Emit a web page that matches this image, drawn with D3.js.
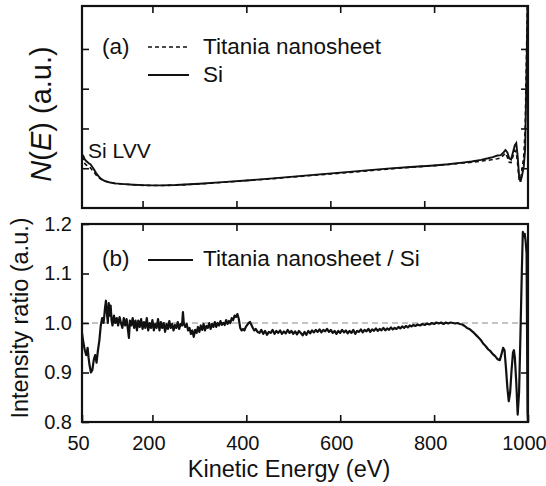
<!DOCTYPE html>
<html>
<head>
<meta charset="utf-8">
<script src="https://cdn.jsdelivr.net/npm/d3@7"></script>
<style>
  body { margin: 0; background: #fff; }
  svg text { font-family: "Liberation Sans", Arial, sans-serif; fill: #111; }
</style>
</head>
<body>
<svg id="graph"></svg>
<script>
// Panel (a): N(E) spectra, [energy eV, arbitrary units]
const siSpectrum = [
  [50,1.35],[53,1.30],[56,1.22],[59,1.18],[62,1.15],[65,1.12],[68,1.10],[71,1.05],[75,0.98],[80,0.88],
  [85,0.80],[90,0.74],[95,0.70],[100,0.67],[110,0.64],[120,0.62],[140,0.60],[160,0.585],[180,0.575],
  [200,0.57],[220,0.57],[250,0.58],[300,0.61],[350,0.65],[400,0.69],[450,0.74],[500,0.79],[550,0.84],
  [600,0.89],[650,0.94],[700,0.99],[750,1.03],[800,1.07],[830,1.10],[860,1.14],[880,1.17],[900,1.21],
  [915,1.25],[925,1.28],[935,1.32],[942,1.33],[948,1.40],[952,1.46],[956,1.40],[960,1.25],[964,1.22],
  [968,1.40],[972,1.58],[975,1.63],[978,1.30],[981,0.80],[984,0.66],[987,0.80],[991,1.04],[994,1.5],
  [997,3.5],[1000,6.0]
];
const titaniaSpectrum = [
  [50,1.30],[53,1.22],[56,1.12],[59,1.08],[62,1.06],[65,1.04],[68,1.01],[71,0.96],[75,0.91],[80,0.83],
  [85,0.77],[90,0.73],[95,0.70],[100,0.68],[110,0.645],[120,0.62],[140,0.60],[160,0.585],[180,0.57],
  [200,0.565],[220,0.565],[250,0.575],[300,0.605],[350,0.645],[400,0.69],[450,0.73],[500,0.78],
  [550,0.83],[600,0.875],[650,0.925],[700,0.975],[750,1.025],[800,1.065],[830,1.095],[860,1.13],
  [880,1.15],[900,1.18],[915,1.20],[925,1.22],[935,1.24],[942,1.26],[948,1.33],[952,1.38],[956,1.28],
  [960,1.15],[964,1.14],[968,1.30],[972,1.45],[975,1.40],[978,1.10],[981,0.72],[984,0.70],[987,0.95],
  [991,1.3],[994,2.0],[997,4.0],[1000,6.0]
];

// Panel (b): intensity ratio Titania nanosheet / Si
const ratio = [
  [50,0.980],[53,0.960],[56,0.945],[59,0.935],[62,0.950],[64,0.930],[66,0.915],[69,0.900],[72,0.905],
  [75,0.925],[78,0.935],[81,0.920],[84,0.945],[87,0.965],[90,0.995],[93,1.010],[96,1.000],[99,1.030],
  [101,1.045],[103,1.020],[105,1.000],[107,1.040],[109,1.015],[111,1.035],[113,1.005],[115,0.995],
  [118,1.015],[121,1.000],[124,1.010],[127,0.995],[130,1.012],[133,1.000],[136,0.990],[139,1.010],
  [142,0.995],[145,1.008],[148,0.985],[150,0.970],[152,1.005],[155,0.995],[158,1.010],[161,0.990],
  [164,1.005],[167,0.985],[170,1.005],[173,0.992],[176,1.008],[179,0.988],[182,1.002],[185,0.990],
  [188,1.010],[191,0.985],[194,1.000],[197,0.990],[200,1.006],[203,0.985],[206,0.998],[209,0.990],
  [212,1.008],[215,0.985],[218,1.002],[221,0.990],[224,1.000],[227,0.982],[230,0.998],[233,0.988],
  [236,1.004],[239,0.990],[242,0.998],[245,0.985],[248,0.996],[251,0.990],[254,1.002],[257,0.988],
  [260,0.998],[263,0.995],[265,1.022],[267,0.998],[270,0.992],[273,0.998],[276,0.985],[279,0.990],
  [282,0.978],[285,0.985],[288,0.972],[291,0.986],[294,0.980],[297,0.992],[300,0.982],[303,0.995],
  [306,0.986],[309,0.998],[312,0.985],[315,0.994],[318,0.990],[321,1.000],[324,0.988],[327,0.998],
  [330,0.992],[333,1.002],[336,0.992],[339,1.000],[342,0.995],[345,1.004],[348,0.996],[351,1.000],
  [354,0.996],[357,1.006],[360,0.998],[363,1.004],[366,1.000],[369,1.010],[372,1.006],[375,1.015],
  [378,1.012],[381,1.018],[384,1.008],[387,0.990],[390,0.985],[393,0.988],[396,0.985],[399,0.992],
  [402,0.996],[405,1.000],[408,1.002],[411,0.996],[414,0.990],[417,0.985],[420,0.988],[424,0.982],
  [428,0.980],[432,0.986],[436,0.978],[440,0.984],[444,0.976],[448,0.982],[452,0.980],[456,0.986],
  [460,0.978],[464,0.984],[468,0.980],[472,0.985],[476,0.978],[480,0.983],[484,0.979],[488,0.986],
  [492,0.980],[496,0.984],[500,0.978],[504,0.983],[508,0.977],[512,0.984],[516,0.980],[520,0.975],
  [524,0.982],[528,0.976],[532,0.984],[536,0.979],[540,0.985],[544,0.981],[548,0.986],[552,0.982],
  [556,0.987],[560,0.981],[564,0.986],[568,0.983],[572,0.988],[576,0.982],[580,0.986],[584,0.980],
  [588,0.984],[592,0.978],[596,0.984],[600,0.980],[604,0.986],[608,0.981],[612,0.985],[616,0.979],
  [620,0.984],[624,0.980],[628,0.986],[632,0.978],[636,0.984],[640,0.982],[644,0.987],[648,0.981],
  [652,0.986],[656,0.983],[660,0.988],[664,0.982],[668,0.987],[672,0.984],[676,0.989],[680,0.984],
  [684,0.988],[688,0.985],[692,0.990],[696,0.985],[700,0.989],[704,0.986],[708,0.991],[712,0.987],
  [716,0.990],[720,0.988],[724,0.992],[728,0.989],[732,0.993],[736,0.990],[740,0.994],[744,0.991],
  [748,0.995],[752,0.993],[756,0.996],[760,0.994],[765,0.997],[770,0.995],[775,0.998],[780,0.996],
  [785,0.999],[790,0.997],[795,1.000],[800,0.998],[805,1.001],[810,0.999],[815,1.001],[820,0.998],
  [825,1.001],[830,0.999],[835,1.001],[840,1.000],[845,0.999],[850,1.000],[855,0.998],[860,0.997],
  [865,0.994],[870,0.990],[875,0.988],[880,0.984],[885,0.980],[890,0.975],[895,0.970],[900,0.965],
  [905,0.958],[910,0.953],[915,0.947],[920,0.943],[925,0.937],[930,0.933],[935,0.927],[940,0.925],
  [943,0.935],[947,0.950],[950,0.945],[953,0.910],[956,0.870],[959,0.842],[962,0.860],[965,0.905],
  [968,0.940],[970,0.945],[972,0.930],[975,0.880],[978,0.815],[981,0.860],[984,0.980],[987,1.110],
  [989,1.184],[991,1.175],[993,1.180],[995,1.165],[997,1.140],[999,0.820],[1000,0.800]
];

const xTickValues = [50, 200, 400, 600, 800, 1000];
const xInnerTicks = [179, 379, 579, 779];   // offset ticks on the inner edges
const nTicks = [1, 2, 3, 4];
const ratioTicks = [0.8, 0.9, 1.0, 1.1, 1.2];

var svgWidth = 546, svgHeight = 486,
    left = 82, right = 528,
    topA = 6, bottomA = 208,
    topB = 224, bottomB = 422,
    tickLen = 7;

var svg = d3.select("svg#graph")
    .attr("width", svgWidth)
    .attr("height", svgHeight);

var x = d3.scaleLinear().domain([50, 1000]).range([left, right]);
var yA = d3.scaleLinear().domain([0, 5.08]).range([bottomA, topA]);
var yB = d3.scaleLinear().domain([0.8, 1.2]).range([bottomB, topB]);

var defs = svg.append("defs");
defs.append("clipPath").attr("id", "clipA").append("rect")
    .attr("x", left).attr("y", topA).attr("width", right - left).attr("height", bottomA - topA);
defs.append("clipPath").attr("id", "clipB").append("rect")
    .attr("x", left).attr("y", topB).attr("width", right - left).attr("height", bottomB - topB);

// ---- panel (a)
var lineA = d3.line().x(function (d) { return x(d[0]); }).y(function (d) { return yA(d[1]); });

var plotA = svg.append("g").attr("clip-path", "url(#clipA)");
plotA.append("path")
    .attr("d", lineA(titaniaSpectrum))
    .attr("fill", "none").attr("stroke", "#111")
    .attr("stroke-width", 1.6).attr("stroke-dasharray", "4,3");
plotA.append("path")
    .attr("d", lineA(siSpectrum))
    .attr("fill", "none").attr("stroke", "#111")
    .attr("stroke-width", 1.9);

svg.append("g").attr("transform", "translate(" + [0, topA] + ")")
    .call(d3.axisTop(x).tickValues(xTickValues.slice(1, 5)).tickSizeInner(-tickLen).tickSizeOuter(0).tickFormat(""));
svg.append("g").attr("transform", "translate(" + [0, bottomA] + ")")
    .call(d3.axisBottom(x).tickValues(xInnerTicks).tickSizeInner(-tickLen).tickSizeOuter(0).tickFormat(""));
svg.append("g").attr("transform", "translate(" + [left, 0] + ")")
    .call(d3.axisLeft(yA).tickValues(nTicks).tickSizeInner(-tickLen).tickSizeOuter(0).tickFormat(""));
svg.append("g").attr("transform", "translate(" + [right, 0] + ")")
    .call(d3.axisRight(yA).tickValues(nTicks).tickSizeInner(-tickLen).tickSizeOuter(0).tickFormat(""));

svg.append("rect")
    .attr("x", left).attr("y", topA).attr("width", right - left).attr("height", bottomA - topA)
    .attr("fill", "none").attr("stroke", "#111").attr("stroke-width", 2.2);

// legend (a)
svg.append("text").attr("x", 102).attr("y", 54).style("font-size", "22.5px").text("(a)");
svg.append("line").attr("x1", 148).attr("x2", 189).attr("y1", 47).attr("y2", 47)
    .attr("stroke", "#111").attr("stroke-width", 1.6).attr("stroke-dasharray", "4,3");
svg.append("text").attr("x", 203).attr("y", 54).style("font-size", "22.5px").text("Titania nanosheet");
svg.append("line").attr("x1", 148).attr("x2", 189).attr("y1", 75).attr("y2", 75)
    .attr("stroke", "#111").attr("stroke-width", 1.9);
svg.append("text").attr("x", 203).attr("y", 82).style("font-size", "22.5px").text("Si");
svg.append("text").attr("x", 88).attr("y", 158).style("font-size", "21px").text("Si LVV");

var nLabel = svg.append("text")
    .attr("transform", "translate(" + [51, 114] + ") rotate(-90)")
    .attr("text-anchor", "middle")
    .style("font-size", "29px");
nLabel.append("tspan").style("font-style", "italic").text("N");
nLabel.append("tspan").text("(");
nLabel.append("tspan").style("font-style", "italic").text("E");
nLabel.append("tspan").text(") (a.u.)");

// ---- panel (b)
svg.append("line")
    .attr("x1", left).attr("x2", right).attr("y1", yB(1.0)).attr("y2", yB(1.0))
    .attr("stroke", "#888").attr("stroke-width", 1).attr("stroke-dasharray", "6,4");

var lineB = d3.line().x(function (d) { return x(d[0]); }).y(function (d) { return yB(d[1]); });
svg.append("g").attr("clip-path", "url(#clipB)")
    .append("path")
    .attr("d", lineB(ratio))
    .attr("fill", "none").attr("stroke", "#111")
    .attr("stroke-width", 2.2).attr("stroke-linejoin", "round");

svg.append("g").attr("transform", "translate(" + [0, topB] + ")")
    .call(d3.axisTop(x).tickValues(xInnerTicks).tickSizeInner(-tickLen).tickSizeOuter(0).tickFormat(""));
var xAxisB = svg.append("g").attr("transform", "translate(" + [0, bottomB] + ")")
    .call(d3.axisBottom(x).tickValues(xTickValues).tickSizeInner(-tickLen).tickSizeOuter(0)
        .tickPadding(14).tickFormat(d3.format("d")));
xAxisB.selectAll("text").style("font-size", "20px").attr("fill", "#111").attr("dx", -4);
var yAxisB = svg.append("g").attr("transform", "translate(" + [left, 0] + ")")
    .call(d3.axisLeft(yB).tickValues(ratioTicks).tickSizeInner(-tickLen).tickSizeOuter(0)
        .tickPadding(10).tickFormat(d3.format(".1f")));
yAxisB.selectAll("text").style("font-size", "20px").attr("fill", "#111");
svg.append("g").attr("transform", "translate(" + [right, 0] + ")")
    .call(d3.axisRight(yB).tickValues(ratioTicks.slice(1, 4)).tickSizeInner(-tickLen).tickSizeOuter(0).tickFormat(""));

svg.selectAll(".domain").remove();
svg.selectAll(".tick line").attr("stroke", "#111").attr("stroke-width", 1.6);

svg.append("rect")
    .attr("x", left).attr("y", topB).attr("width", right - left).attr("height", bottomB - topB)
    .attr("fill", "none").attr("stroke", "#111").attr("stroke-width", 2.2);

// legend (b)
svg.append("text").attr("x", 102).attr("y", 266).style("font-size", "22.5px").text("(b)");
svg.append("line").attr("x1", 148).attr("x2", 193).attr("y1", 260).attr("y2", 260)
    .attr("stroke", "#111").attr("stroke-width", 1.9);
svg.append("text").attr("x", 203).attr("y", 266).style("font-size", "22.5px").text("Titania nanosheet / Si");

svg.append("text")
    .attr("transform", "translate(" + [28, 318] + ") rotate(-90)")
    .attr("text-anchor", "middle")
    .style("font-size", "23.5px")
    .text("Intensity ratio (a.u.)");

svg.append("text")
    .attr("x", 289).attr("y", 477)
    .attr("text-anchor", "middle")
    .style("font-size", "23.5px")
    .text("Kinetic Energy (eV)");
</script>
</body>
</html>
